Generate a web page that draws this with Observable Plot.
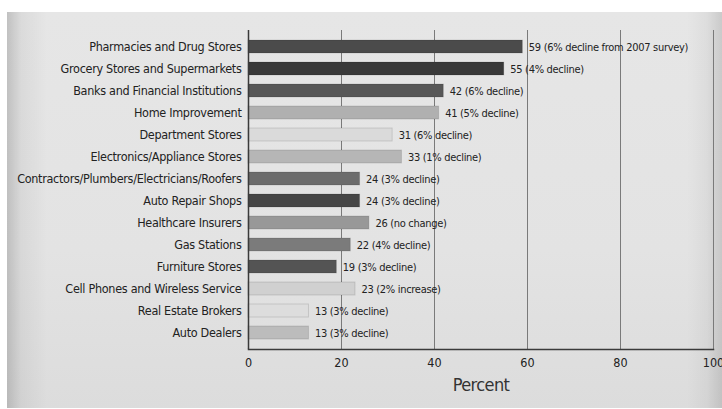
<!DOCTYPE html>
<html>
<head>
<meta charset="utf-8">
<script src="https://cdn.jsdelivr.net/npm/d3@7"></script>
<script src="https://cdn.jsdelivr.net/npm/@observablehq/plot@0.6"></script>
<style>
  html, body { margin: 0; padding: 0; background: #ffffff; }
  #wrap { position: relative; width: 722px; height: 409px; overflow: hidden; }
  #bg {
    position: absolute; left: 7px; top: 12px; width: 715px; height: 396px;
    background:
      linear-gradient(to right, rgba(0,0,0,0.16) 0px, rgba(0,0,0,0.05) 14px, rgba(0,0,0,0) 40px, rgba(0,0,0,0) 680px, rgba(0,0,0,0.04) 700px, rgba(0,0,0,0.12) 715px),
      linear-gradient(to bottom, #e6e6e6 0%, #e3e3e3 60%, #dcdcdc 100%);
  }
  #chart { position: absolute; left: 0; top: 0; }
  svg text { font-family: "Liberation Sans Narrow", "DejaVu Sans Condensed", "Roboto", sans-serif; }
  .ylab text { letter-spacing: -0.3px; }
  .vlab text { letter-spacing: -0.3px; }
  .ttl text { letter-spacing: -0.6px; }
</style>
</head>
<body>
<div id="wrap"><div id="bg"></div><div id="chart"></div></div>
<script>
const categories = [
  "Pharmacies and Drug Stores",
  "Grocery Stores and Supermarkets",
  "Banks and Financial Institutions",
  "Home Improvement",
  "Department Stores",
  "Electronics/Appliance Stores",
  "Contractors/Plumbers/Electricians/Roofers",
  "Auto Repair Shops",
  "Healthcare Insurers",
  "Gas Stations",
  "Furniture Stores",
  "Cell Phones and Wireless Service",
  "Real Estate Brokers",
  "Auto Dealers"
];
const values = [59, 55, 42, 41, 31, 33, 24, 24, 26, 22, 19, 23, 13, 13];
const changes = [
  "6% decline from 2007 survey",
  "4% decline",
  "6% decline",
  "5% decline",
  "6% decline",
  "1% decline",
  "3% decline",
  "3% decline",
  "no change",
  "4% decline",
  "3% decline",
  "2% increase",
  "3% decline",
  "3% decline"
];
const barColors = [
  "#4b4b4b", "#393939", "#575757", "#b0b0b0", "#dadada", "#b6b6b6", "#6c6c6c",
  "#464646", "#989898", "#7b7b7b", "#545454", "#d0d0d0", "#dddddd", "#bcbcbc"
];
const xTicks = [0, 20, 40, 60, 80, 100];
const gridTicks = [20, 40, 60, 80, 100];
const xLabel = "Percent";

const data = categories.map((name, i) => ({
  name, value: values[i], change: changes[i], color: barColors[i],
  label: `${values[i]} (${changes[i]})`
}));

const chart = Plot.plot({
  width: 722,
  height: 409,
  marginLeft: 248,
  marginRight: 9,
  marginTop: 30,
  marginBottom: 60,
  style: { background: "transparent", color: "#222", fontSize: "13px" },
  x: { domain: [0, 100], ticks: xTicks, label: null },
  y: { domain: categories, padding: 0.4, label: null },
  color: { type: "identity" },
  marks: [
    Plot.ruleX(gridTicks, { stroke: "#7a7a7a", strokeWidth: 1 }),
    Plot.barX(data, { x: "value", y: "name", fill: "color", stroke: "#000", strokeOpacity: 0.12, strokeWidth: 1 }),
    Plot.text(data, { x: "value", y: "name", text: "label", textAnchor: "start", dx: 6, fontSize: 11, fill: "#222", className: "vlab" }),
    Plot.ruleX([0], { stroke: "#3a3a3a", strokeWidth: 1.5 }),
    Plot.frame({ anchor: "bottom", stroke: "#3a3a3a", strokeWidth: 1.5 }),
    Plot.axisY({ tickSize: 0, tickPadding: 7, fontSize: 12.5, label: null, className: "ylab" }),
    Plot.axisX({ ticks: xTicks, tickSize: 0, tickPadding: 9, fontSize: 12.5, label: null }),
    Plot.text([xLabel], { frameAnchor: "bottom", dy: 41, fontSize: 18, fill: "#333", className: "ttl" })
  ]
});
document.getElementById("chart").appendChild(chart);
</script>
</body>
</html>
